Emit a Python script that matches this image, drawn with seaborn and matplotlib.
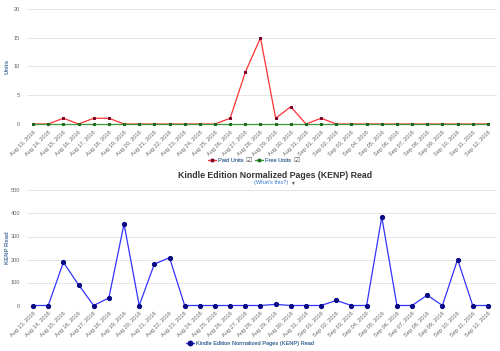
import numpy as np
import pandas as pd
import seaborn as sns
import matplotlib.pyplot as plt
from matplotlib.lines import Line2D

# dates shown on both charts
dates = ["Aug 13, 2016", "Aug 14, 2016", "Aug 15, 2016", "Aug 16, 2016", "Aug 17, 2016",
         "Aug 18, 2016", "Aug 19, 2016", "Aug 20, 2016", "Aug 21, 2016", "Aug 22, 2016",
         "Aug 23, 2016", "Aug 24, 2016", "Aug 25, 2016", "Aug 26, 2016", "Aug 27, 2016",
         "Aug 28, 2016", "Aug 29, 2016", "Aug 30, 2016", "Aug 31, 2016", "Sep 01, 2016",
         "Sep 02, 2016", "Sep 03, 2016", "Sep 04, 2016", "Sep 05, 2016", "Sep 06, 2016",
         "Sep 07, 2016", "Sep 08, 2016", "Sep 09, 2016", "Sep 10, 2016", "Sep 11, 2016",
         "Sep 12, 2016"]
paid_units = [0, 0, 1, 0, 1, 1, 0, 0, 0, 0, 0, 0, 0, 1, 9, 15, 1, 3, 0, 1, 0,
              0, 0, 0, 0, 0, 0, 0, 0, 0, 0]
free_units = [0] * 31
kenp = [0, 0, 188, 90, 0, 33, 355, 0, 180, 208, 0, 0, 0, 0, 0, 0, 5, 0, 0, 0, 22,
        0, 0, 385, 0, 0, 45, 0, 200, 0, 0]

sns.set_style("white")
plt.rcParams['font.family'] = ['Liberation Sans', 'DejaVu Sans']

df = pd.DataFrame({"x": np.arange(len(dates)), "paid": paid_units,
                   "free": free_units, "kenp": kenp})

fig = plt.figure(figsize=(5.0, 3.51), dpi=100)
W, H = 500, 351


def box(l, t, r, b):
    return [l / W, 1 - b / H, (r - l) / W, (b - t) / H]


grey = "#666666"
label_blue = "#4d759e"
axis_blue = "#ccd6eb"


def style(ax, ymax, step, ylabel):
    ax.set_xlim(-0.4, 30.6)
    ax.set_ylim(0, ymax)
    ax.set_yticks(np.arange(0, ymax + 1, step))
    ax.grid(axis="y", color="#e6e6e6", linewidth=0.7)
    ax.set_axisbelow(True)
    for s in ax.spines.values():
        s.set_visible(False)
    ax.set_xticks(df["x"])
    ax.set_xticklabels(dates, rotation=45, ha="right", rotation_mode="anchor",
                       fontsize=4.1, color=grey)
    ax.tick_params(axis="y", labelsize=4.1, colors=grey, length=0, pad=5)
    ax.tick_params(axis="x", length=0, pad=4)
    ax.set_xlabel("")
    ax.set_ylabel(ylabel, fontsize=4.3, color=label_blue, fontweight="bold")
    ax.yaxis.set_label_coords(-0.036, 0.5)


red_kw = dict(color="#ff3333", linewidth=0.9, marker="s", markersize=2.0,
              markerfacecolor="#7a0026", markeredgecolor="#7a0026")
green_kw = dict(color="#3a9a3a", linewidth=0.9, marker="s", markersize=1.7,
                markerfacecolor="#1c6b1c", markeredgecolor="#1c6b1c")
blue_kw = dict(color="#3333ff", linewidth=0.9, marker="o", markersize=3.0,
               markerfacecolor="#0a0a85", markeredgecolor="#0a0a85")

# top chart: units
ax1 = fig.add_axes(box(27, 9, 497, 124))
sns.lineplot(data=df, x="x", y="paid", ax=ax1, clip_on=False, **red_kw)
sns.lineplot(data=df, x="x", y="free", ax=ax1, clip_on=False, **green_kw)
style(ax1, 20, 5, "Units")

# bottom chart: KENP read
ax2 = fig.add_axes(box(27, 190.5, 497, 305.5))
sns.lineplot(data=df, x="x", y="kenp", ax=ax2, clip_on=False, **blue_kw)
style(ax2, 500, 100, "KENP Read")
ax2.axhline(0, color=axis_blue, linewidth=0.8, zorder=0)

# legends, one entry at a time
leg_items = [(Line2D([], [], **red_kw), "Paid Units", 208, 160),
             (Line2D([], [], **green_kw), "Free Units", 255, 160),
             (Line2D([], [], **blue_kw), "Kindle Edition Normalized Pages (KENP) Read", 186, 343)]
for handle, text, lx, ly in leg_items:
    lg = fig.legend([handle], [text], loc="center left",
                    bbox_to_anchor=(lx / W, 1 - ly / H), frameon=False,
                    fontsize=4.1, labelcolor=label_blue, handlelength=1.4,
                    handletextpad=0.4, borderpad=0, borderaxespad=0)
    fig.add_artist(lg)
for cx in (248, 296):
    fig.text(cx / W, 1 - 160 / H, "\u2611", fontsize=5, color="#555555",
             ha="center", va="center", family=["DejaVu Sans"])

# title of the lower chart
fig.text(275 / W, 1 - 175 / H, "Kindle Edition Normalized Pages (KENP) Read",
         fontsize=6.3, fontweight="bold", color="#333333", ha="center", va="center")
fig.text(271 / W, 1 - 182.5 / H, "(What's this?)", fontsize=4.1, color="#3a7bd5",
         ha="center", va="center")
fig.text(293 / W, 1 - 182.5 / H, "\u25be", fontsize=4.1, color="#555555",
         ha="center", va="center", family=["DejaVu Sans"])

fig.savefig("out.png", dpi=100)
